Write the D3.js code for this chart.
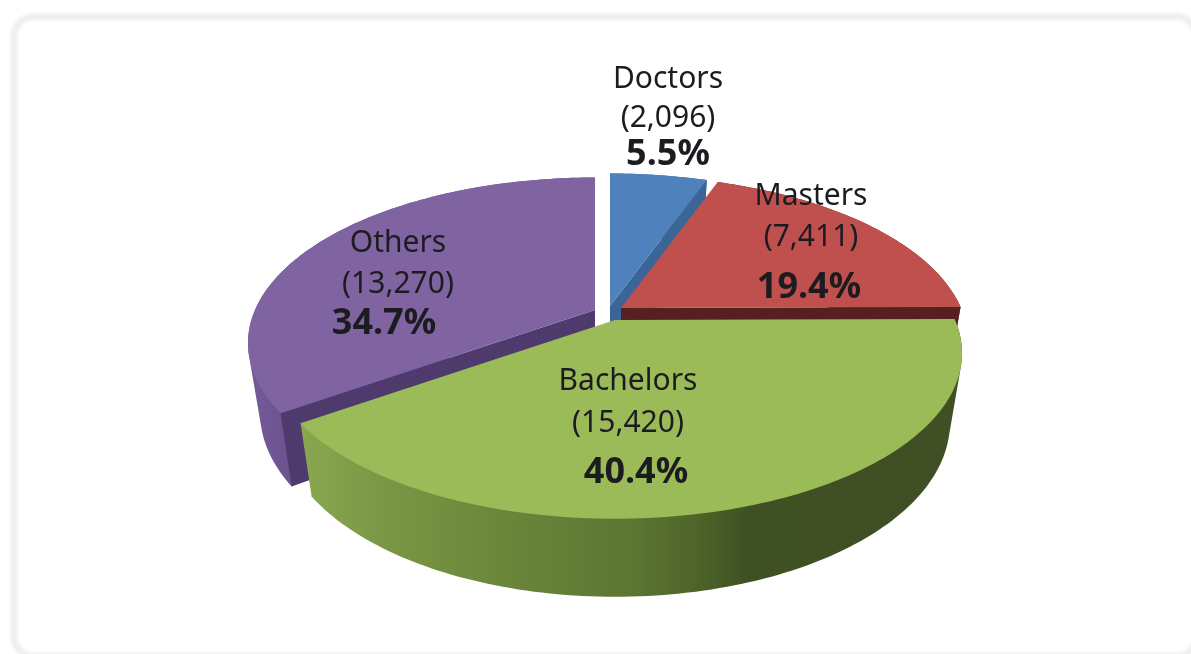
<!DOCTYPE html>
<html>
<head>
<meta charset="utf-8">
<script src="https://cdn.jsdelivr.net/npm/d3@7"></script>
<style>
  html, body { margin: 0; padding: 0; background: #fff; overflow: hidden; }
  svg { filter: blur(0.4px); }
  text { font-family: "Noto Sans", "Open Sans", sans-serif; fill: #1c1c20; }
</style>
</head>
<body>
<div id="chart"></div>
<script>
const categories = ['Doctors', 'Masters', 'Bachelors', 'Others'];
const counts = [2096, 7411, 15420, 13270];
const percents = ['5.5%', '19.4%', '40.4%', '34.7%'];

const width = 1191;
const height = 654;

// each slice is pulled out by hand, so every one has its own apex
const apex = {
  Doctors: [610, 306],
  Masters: [621, 308],
  Bachelors: [615, 320],
  Others: [595, 310]
};
const topColor = { Doctors: '#4f81bd', Masters: '#c0504d', Bachelors: '#9bbb59', Others: '#8064a2' };
const cutColor = { Doctors: '#3b6597', Masters: '#55201f', Bachelors: '#55692f', Others: '#4e3a6c' };
const wallColor = { Doctors: '#3b6597', Masters: '#55201f', Bachelors: 'url(#greenWall)', Others: 'url(#purpleWall)' };
const labelPos = {
  Doctors: { x: 668, y: [88, 127, 165], px: 668 },
  Masters: { x: 811, y: [205, 246, 298], px: 809 },
  Bachelors: { x: 628, y: [390, 432, 483], px: 636 },
  Others: { x: 398, y: [252, 293, 334], px: 384 }
};

const rx = 340;
const ry = 159;
const persp = 0.2;
const depth = 68;
const rimShrink = 0.035; // bottom rim is further from the camera

const svg = d3.select('#chart').append('svg')
  .attr('width', width)
  .attr('height', height)
  .style('display', 'block');

const defs = svg.append('defs');
const blur = defs.append('filter').attr('id', 'soft');
blur.append('feGaussianBlur').attr('stdDeviation', 1.5);

function addGradient(id, x1, x2, stops) {
  const lg = defs.append('linearGradient')
    .attr('id', id)
    .attr('gradientUnits', 'userSpaceOnUse')
    .attr('x1', x1).attr('x2', x2)
    .attr('y1', 0).attr('y2', 0);
  stops.forEach(s => lg.append('stop').attr('offset', s[0]).attr('stop-color', s[1]));
}
addGradient('greenWall', 298, 962, [[0, '#8aa850'], [0.12, '#7b9846'], [0.3, '#6b873b'], [0.5, '#5c7633'], [0.6, '#4e6429'], [0.68, '#3f5022'], [1, '#414f24']]);
addGradient('purpleWall', 246, 300, [[0, '#755b97'], [1, '#6a508c']]);

// panel frame, runs off the right and bottom of the picture
svg.append('rect')
  .attr('x', 14).attr('y', 16.5)
  .attr('width', 1182).attr('height', 640)
  .attr('rx', 20)
  .attr('fill', '#fff')
  .attr('stroke', '#efefef')
  .attr('stroke-width', 7)
  .attr('filter', 'url(#soft)');

// tilted disc with a little perspective, lower part comes closer
function project(name, a, r, z) {
  const X = r * Math.sin(a);
  const Y = -r * Math.cos(a);
  const s = 1 / (1 - persp * Y);
  const k = 1 - rimShrink * z;
  return [apex[name][0] + rx * X * s * k, apex[name][1] + ry * Y * s * k + z * depth * s];
}

const pie = d3.pie().sort(null).value(d => d.count);
const slices = pie(categories.map((c, i) => ({ name: c, count: counts[i], pct: percents[i] })));
const line = d3.line();

function arcPoints(name, a0, a1, z) {
  const n = Math.ceil(Math.abs(a1 - a0) / 0.02);
  return d3.range(n + 1).map(i => project(name, a0 + (a1 - a0) * i / n, 1, z));
}

function drawSlice(s) {
  const name = s.data.name;
  const g = svg.append('g').attr('class', 'slice');
  const a0 = s.startAngle;
  const a1 = s.endAngle;

  // outer wall, hull so the silhouette joins top and bottom rim
  const wall = d3.polygonHull(arcPoints(name, a0, a1, 0).concat(arcPoints(name, a0, a1, 1)));
  g.append('path').attr('d', line(wall) + 'Z').attr('fill', wallColor[name]);

  // cut faces, only the ones turned to the camera
  const cuts = [];
  if (-Math.sin(a0) > 0.01) cuts.push(a0);
  if (Math.sin(a1) > 0.01) cuts.push(a1);
  cuts.forEach(a => {
    const pts = [project(name, a, 0, 0), project(name, a, 1, 0), project(name, a, 1, 1), project(name, a, 0, 1)];
    g.append('path').attr('d', line(pts) + 'Z').attr('fill', cutColor[name]);
  });

  // top
  const top = [project(name, a0, 0, 0)].concat(arcPoints(name, a0, a1, 0));
  g.append('path').attr('d', line(top) + 'Z').attr('fill', topColor[name]);
}

// back slices first, Bachelors sits in front of everything
['Others', 'Doctors', 'Masters', 'Bachelors'].forEach(name => {
  drawSlice(slices.find(s => s.data.name === name));
});

slices.forEach(s => {
  const d = s.data;
  const p = labelPos[d.name];
  svg.append('text').attr('x', p.x).attr('y', p.y[0]).attr('text-anchor', 'middle')
    .attr('font-size', 30).text(d.name);
  svg.append('text').attr('x', p.x).attr('y', p.y[1]).attr('text-anchor', 'middle')
    .attr('font-size', 30).text('(' + d3.format(',')(d.count) + ')');
  svg.append('text').attr('x', p.px).attr('y', p.y[2]).attr('text-anchor', 'middle')
    .attr('font-size', 36).attr('font-weight', 'bold').text(d.pct);
});
</script>
</body>
</html>
